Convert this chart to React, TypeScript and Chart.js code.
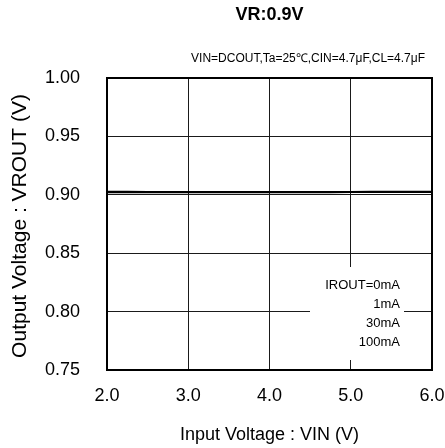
import React, { useEffect, useRef } from "react";
import { Chart, registerables } from "chart.js";

Chart.register(...registerables);

const TITLE = "VR:0.9V";
const SUBTITLE = "VIN=DCOUT,Ta=25℃,CIN=4.7μF,CL=4.7μF";
const X_TITLE = "Input Voltage : VIN (V)";
const Y_TITLE = "Output Voltage : VROUT (V)";
const LEGEND_LINES = ["IROUT=0mA", "1mA", "30mA", "100mA"];

const vin = [2.0, 2.5, 3.0, 3.5, 4.0, 4.5, 5.0, 5.5, 6.0];
const vout0mA = [0.9029, 0.9028, 0.9027, 0.9027, 0.9027, 0.9027, 0.9028, 0.9029, 0.9029];
const vout1mA = [0.9026, 0.9026, 0.9025, 0.9025, 0.9025, 0.9025, 0.9026, 0.9027, 0.9027];
const vout30mA = [0.9023, 0.9023, 0.9022, 0.9022, 0.9022, 0.9022, 0.9023, 0.9024, 0.9024];
const vout100mA = [0.9018, 0.9019, 0.9019, 0.9019, 0.9019, 0.9019, 0.9020, 0.9021, 0.9021];

const FONT = "'Liberation Sans', Arial, Helvetica, sans-serif";

const overlay = {
  id: "overlay",
  beforeDatasetsDraw(chart: any) {
    const { ctx, chartArea } = chart;
    ctx.save();
    ctx.fillStyle = "#ffffff";
    const bx = chartArea.right - 122;
    const by = chartArea.bottom - 103;
    ctx.fillRect(bx, by, 94, 93);
    ctx.fillStyle = "#000000";
    ctx.font = `13px ${FONT}`;
    ctx.textAlign = "right";
    ctx.textBaseline = "middle";
    const tx = chartArea.right - 32;
    LEGEND_LINES.forEach((t, i) => {
      ctx.fillText(t, tx, by + 18 + i * 19);
    });
    ctx.restore();
  },
  afterDraw(chart: any) {
    const { ctx, chartArea } = chart;
    ctx.save();
    ctx.strokeStyle = "#000000";
    ctx.lineWidth = 2;
    ctx.strokeRect(chartArea.left, chartArea.top, chartArea.right - chartArea.left, chartArea.bottom - chartArea.top);
    ctx.fillStyle = "#000000";
    ctx.textBaseline = "middle";
    ctx.textAlign = "center";
    ctx.font = `bold 18px ${FONT}`;
    ctx.fillText(TITLE, (chartArea.left + chartArea.right) / 2, 15);
    ctx.textAlign = "right";
    ctx.font = `12px ${FONT}`;
    ctx.fillText(SUBTITLE, chartArea.right - 7, 59);
    ctx.translate(20, (chartArea.top + chartArea.bottom) / 2 + 2);
    ctx.rotate(-Math.PI / 2);
    ctx.textAlign = "center";
    ctx.font = `21px ${FONT}`;
    ctx.fillText(Y_TITLE, 0, 0);
    ctx.restore();
  },
};

export default function App() {
  const ref = useRef<HTMLCanvasElement | null>(null);
  useEffect(() => {
    if (!ref.current) return;
    const mk = (label: string, data: number[]) => ({
      label,
      data: vin.map((x, i) => ({ x, y: data[i] })),
      borderColor: "#000000",
      borderWidth: 1.2,
      pointRadius: 0,
      fill: false,
      tension: 0.3,
    });
    const chart = new Chart(ref.current, {
      type: "line",
      data: {
        datasets: [
          mk("0mA", vout0mA),
          mk("1mA", vout1mA),
          mk("30mA", vout30mA),
          mk("100mA", vout100mA),
        ],
      },
      options: {
        animation: false,
        responsive: false,
        maintainAspectRatio: false,
        layout: { padding: { top: 78, right: 13, left: 0, bottom: 0 } },
        plugins: { legend: { display: false }, title: { display: false }, tooltip: { enabled: false } },
        scales: {
          x: {
            type: "linear",
            min: 2,
            max: 6,
            afterFit: (s: any) => { s.height = 78; s.paddingRight = 0; s.paddingLeft = 0; },
            ticks: {
              stepSize: 1,
              color: "#000",
              padding: 15,
              font: { family: FONT, size: 18 },
              callback: (v: any) => Number(v).toFixed(1),
            },
            grid: { color: "#1a1a1a", lineWidth: 1, drawTicks: false },
            border: { display: false },
            title: {
              display: true,
              text: X_TITLE,
              color: "#000",
              font: { family: FONT, size: 18 },
              padding: { top: 0, bottom: 2 },
            },
          },
          y: {
            type: "linear",
            min: 0.75,
            max: 1.0,
            afterFit: (s: any) => { s.width = 107; s.paddingTop = 0; s.paddingBottom = 0; },
            ticks: {
              stepSize: 0.05,
              color: "#000",
              padding: 27,
              font: { family: FONT, size: 18 },
              callback: (v: any) => Number(v).toFixed(2),
            },
            grid: { color: "#1a1a1a", lineWidth: 1, drawTicks: false },
            border: { display: false },
            title: { display: false },
          },
        },
      },
      plugins: [overlay],
    });
    return () => chart.destroy();
  }, []);
  return (
    <div style={{ position: "absolute", left: 0, top: 0, width: 445, height: 448, background: "#fff" }}>
      <canvas ref={ref} width={445} height={448} style={{ width: 445, height: 448 }} />
    </div>
  );
}
